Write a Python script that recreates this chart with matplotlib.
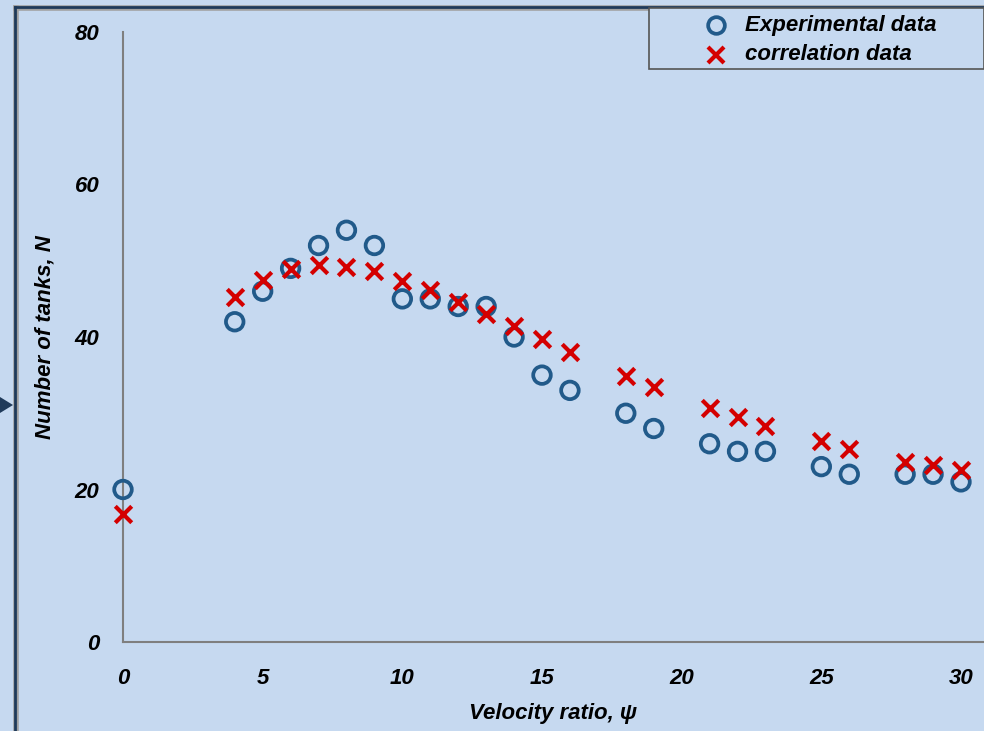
import matplotlib
matplotlib.use("Agg")
import matplotlib.pyplot as plt
from matplotlib.lines import Line2D
from matplotlib.patches import Polygon, Rectangle

plt.rcParams['font.family'] = ['Liberation Sans', 'DejaVu Sans']

x_exp = [0, 4, 5, 6, 7, 8, 9, 10, 11, 12, 13, 14, 15, 16, 18, 19, 21, 22, 23, 25, 26, 28, 29, 30]
y_exp = [20, 42, 46, 49, 52, 54, 52, 45, 45, 44, 44, 40, 35, 33, 30, 28, 26, 25, 25, 23, 22, 22, 22, 21]
x_cor = [0, 4, 5, 6, 7, 8, 9, 10, 11, 12, 13, 14, 15, 16, 18, 19, 21, 22, 23, 25, 26, 28, 29, 30]
y_cor = [16.8, 45.3, 47.5, 48.9, 49.5, 49.2, 48.7, 47.4, 46.2, 44.6, 43.0, 41.4, 39.7, 38.0,
         34.9, 33.4, 30.7, 29.5, 28.3, 26.3, 25.3, 23.6, 23.2, 22.5]
x_ticks = [0, 5, 10, 15, 20, 25, 30]
y_ticks = [0, 20, 40, 60, 80]

W, H = 984, 731
bg = '#c6d9f0'
fs = 16
fig = plt.figure(figsize=(W / 100, H / 100), dpi=100, facecolor=bg)

left, right, top, bottom = 123, 984, 32, 642
ax = fig.add_axes([left / W, 1 - bottom / H, (right - left) / W, (bottom - top) / H])
ax.set_facecolor(bg)
ax.set_xlim(0, 30 * (right - left) / (961 - left))
ax.set_ylim(0, 80)

ax.scatter(x_exp, y_exp, s=160, facecolors='none', edgecolors='#215a8a', linewidths=2.7,
           label='Experimental data', zorder=3, clip_on=False)
ax.scatter(x_cor, y_cor, s=140, marker='x', color='#d40000', linewidths=3.0,
           label='correlation data', zorder=4, clip_on=False)

for s in ['top', 'right']:
    ax.spines[s].set_visible(False)
for s in ['left', 'bottom']:
    ax.spines[s].set_color('#7f7f7f')
    ax.spines[s].set_linewidth(1.5)

ax.set_xticks(x_ticks)
ax.set_yticks(y_ticks)
ax.tick_params(length=0)
ax.tick_params(axis='x', pad=19)
ax.tick_params(axis='y', pad=17)
for lab in ax.get_xticklabels() + ax.get_yticklabels():
    lab.set_fontsize(fs)
    lab.set_fontweight('bold')
    lab.set_fontstyle('italic')

ax.set_xlabel('Velocity ratio, ψ', fontsize=fs, fontweight='bold', fontstyle='italic', labelpad=10)
ax.set_ylabel('Number of tanks, N', fontsize=fs, fontweight='bold', fontstyle='italic', labelpad=14)

# legend box
leg_rect = Rectangle((649 / W, 1 - 69 / H), (W - 649) / W, (69 - 8) / H, transform=fig.transFigure,
                     facecolor=bg, edgecolor='#555555', linewidth=1.2, zorder=5)
fig.add_artist(leg_rect)
fig.add_artist(Line2D([716 / W], [1 - 25 / H], marker='o', markersize=12, markerfacecolor='none',
                      markeredgecolor='#215a8a', markeredgewidth=2.7, transform=fig.transFigure, zorder=6))
fig.add_artist(Line2D([716 / W], [1 - 55 / H], marker='x', markersize=12, color='#d40000',
                      markeredgewidth=3.0, transform=fig.transFigure, zorder=6))
fig.text(745 / W, 1 - 25 / H, 'Experimental data', fontsize=fs, fontweight='bold', fontstyle='italic',
         va='center', ha='left', zorder=6)
fig.text(745 / W, 1 - 55 / H, 'correlation data', fontsize=fs, fontweight='bold', fontstyle='italic',
         va='center', ha='left', zorder=6)

# outer frame lines
fig.add_artist(Line2D([16 / W, 16 / W], [0, 1 - 8 / H], color='#a0a0a0', linewidth=4, transform=fig.transFigure))
fig.add_artist(Line2D([16 / W, 1], [1 - 8 / H, 1 - 8 / H], color='#a0a0a0', linewidth=4, transform=fig.transFigure))
fig.add_artist(Line2D([15 / W, 15 / W], [0, 1 - 7 / H], color='#1f3a5a', linewidth=2, transform=fig.transFigure))
fig.add_artist(Line2D([15 / W, 1], [1 - 7 / H, 1 - 7 / H], color='#1f3a5a', linewidth=2, transform=fig.transFigure))
fig.add_artist(Polygon([(0, 1 - 397 / H), (13 / W, 1 - 405 / H), (0, 1 - 413 / H)], closed=True,
                       facecolor='#1f3a5a', edgecolor='none', transform=fig.transFigure))

fig.savefig('out.png', dpi=100, facecolor=bg)
